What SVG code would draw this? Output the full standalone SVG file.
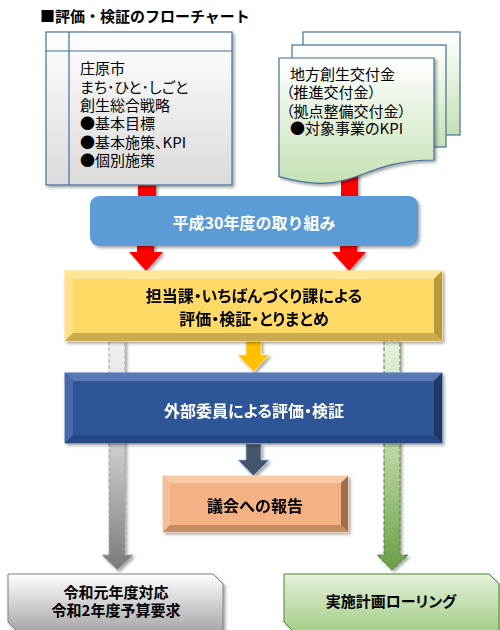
<svg xmlns="http://www.w3.org/2000/svg" width="500" height="630" viewBox="0 0 500 630">
<defs>
<style>
text{font-family:"Noto Sans CJK JP","Noto Sans",sans-serif;}
.t{font-size:15px;fill:#000;}
.b{font-size:15px;font-weight:bold;text-anchor:middle;}
.w{fill:#fff;}
.k{fill:#000;}
.p{font-feature-settings:"palt";}
</style>
<filter id="sh" x="-10%" y="-10%" width="130%" height="140%">
<feDropShadow dx="2" dy="2" stdDeviation="1.8" flood-color="#000" flood-opacity="0.35"/>
</filter>
<linearGradient id="gGray" x1="0" y1="0" x2="0" y2="1">
<stop offset="0" stop-color="#ffffff"/><stop offset="1" stop-color="#dadada"/>
</linearGradient>
<linearGradient id="gGreen" x1="0" y1="0" x2="0" y2="1">
<stop offset="0" stop-color="#ffffff"/><stop offset="1" stop-color="#c5e0b4"/>
</linearGradient>
<linearGradient id="gArrGray" x1="0" y1="0" x2="0" y2="1">
<stop offset="0" stop-color="#f2f2f2"/><stop offset="0.5" stop-color="#c8c8c8"/><stop offset="1" stop-color="#7a7a7a"/>
</linearGradient>
<linearGradient id="gArrGreen" x1="0" y1="0" x2="0" y2="1">
<stop offset="0" stop-color="#e6f1df"/><stop offset="0.5" stop-color="#b5d69f"/><stop offset="1" stop-color="#6a9e45"/>
</linearGradient>
<linearGradient id="gBotGray" x1="0" y1="0" x2="0" y2="1">
<stop offset="0" stop-color="#ffffff"/><stop offset="1" stop-color="#a6a6a6"/>
</linearGradient>
<linearGradient id="gBotGreen" x1="0" y1="0" x2="0" y2="1">
<stop offset="0" stop-color="#e5f1dc"/><stop offset="1" stop-color="#a3cd86"/>
</linearGradient>
</defs>
<rect width="500" height="630" fill="#fff"/>

<text id="title" x="40" y="22" class="t" style="font-weight:bold">■評価・検証のフローチャート</text>

<g id="connectors">
<rect x="138" y="180" width="18" height="18" fill="#ff0000" filter="url(#sh)"/>
<rect x="341" y="170" width="17" height="28" fill="#ff0000" filter="url(#sh)"/>
<polygon points="137,240 154,240 154,252 163,252 146,271 129,252 137,252" fill="#ff0000" filter="url(#sh)"/>
<polygon points="340,240 357,240 357,252 366,252 349,271 332,252 340,252" fill="#ff0000" filter="url(#sh)"/>
<polygon points="109,341 125,341 125,555 133,555 117.5,570 102,555 109,555" fill="url(#gArrGray)" stroke="#a6a6a6" stroke-width="1" stroke-dasharray="4,2" filter="url(#sh)"/>
<polygon points="384,341 400,341 400,555 408,555 392,570 377,555 384,555" fill="url(#gArrGreen)" stroke="#548235" stroke-width="1" stroke-dasharray="4,2" filter="url(#sh)"/>
<polygon points="246,341 261,341 261,355 269,355 253.5,372 238,355 246,355" fill="#ffc000" stroke="#ffe699" stroke-width="0.8" filter="url(#sh)"/>
<polygon points="246,444 261,444 261,460 269,460 253.5,476 238,460 246,460" fill="#44546a" stroke="#9dc3e6" stroke-width="0.8" filter="url(#sh)"/>
</g>

<g id="strategy">
<rect x="46" y="32" width="186" height="153" fill="url(#gGray)" stroke="#41719c" stroke-width="1.2" filter="url(#sh)"/>
<line x1="69" y1="32" x2="69" y2="185" stroke="#41719c" stroke-width="1.2"/>
<line x1="46" y1="51" x2="232" y2="51" stroke="#41719c" stroke-width="1.2"/>
<text class="t p" x="80" y="74">庄原市</text>
<text class="t p" x="80" y="92.5">まち･ひと･しごと</text>
<text class="t p" x="80" y="111">創生総合戦略</text>
<text class="t p" x="80" y="129">●基本目標</text>
<text class="t p" x="80" y="147.5">●基本施策、KPI</text>
<text class="t p" x="80" y="166">●個別施策</text>
</g>

<g id="grant">
<rect x="303" y="32" width="157" height="103" fill="url(#gGreen)" stroke="#41719c" stroke-width="1.2"/>
<rect x="292" y="45" width="154" height="102" fill="url(#gGreen)" stroke="#41719c" stroke-width="1.2"/>
<path d="M279,58 H434 V160 C356.5,160 356.5,198.6 279,176.6 Z" fill="url(#gGreen)" stroke="#41719c" stroke-width="1.2" filter="url(#sh)"/>
<text class="t p" x="290" y="80">地方創生交付金</text>
<text class="t p" x="286" y="98">（推進交付金）</text>
<text class="t p" x="286" y="116.5">（拠点整備交付金）</text>
<text class="t p" x="290" y="134">●対象事業のKPI</text>
</g>

<g id="h30">
<rect x="90" y="196" width="328" height="50" rx="9" fill="#5b9bd5" filter="url(#sh)"/>
<text class="b w" x="254" y="229" style="font-size:16px">平成30年度の取り組み</text>
</g>

<g id="dept" filter="url(#sh)">
<rect x="65" y="271" width="377" height="70" fill="#ffd966" stroke="#ffe083" stroke-width="1"/>
<polygon points="65,271 442,271 434,279 73,279" fill="#ffe699"/>
<polygon points="65,271 73,279 73,333 65,341" fill="#ffe28a"/>
<polygon points="442,271 442,341 434,333 434,279" fill="#b8983d"/>
<polygon points="65,341 442,341 434,333 73,333" fill="#ccaa4f"/>
<text class="b k p" x="254" y="302" style="font-size:16px">担当課・いちばんづくり課による</text>
<text class="b k p" x="254" y="325" style="font-size:16px">評価・検証・とりまとめ</text>
</g>

<g id="external" filter="url(#sh)">
<rect x="65" y="373" width="377" height="70" fill="#2f5597" stroke="#4472c4" stroke-width="1"/>
<polygon points="65,373 442,373 434,381 73,381" fill="#5a78b2"/>
<polygon points="65,373 73,381 73,435 65,443" fill="#4a68a5"/>
<polygon points="442,373 442,443 434,435 434,381" fill="#1f3864"/>
<polygon points="65,443 442,443 434,435 73,435" fill="#264a86"/>
<text class="b w p" x="254" y="417" style="font-size:16px">外部委員による評価・検証</text>
</g>

<g id="council" filter="url(#sh)">
<rect x="163" y="476" width="185" height="56" fill="#f4b183" stroke="#f8cbad" stroke-width="1"/>
<polygon points="163,476 348,476 341,483 170,483" fill="#f8caa8"/>
<polygon points="163,476 170,483 170,525 163,532" fill="#f6bf97"/>
<polygon points="348,476 348,532 341,525 341,483" fill="#a0704d"/>
<polygon points="163,532 348,532 341,525 170,525" fill="#c58d64"/>
<text class="b k" x="255" y="512" style="font-size:16px">議会への報告</text>
</g>

<g id="budget">
<polygon points="8,574 213,574 223,584 223,632 18,632 8,622" fill="url(#gBotGray)" stroke="#7f7f7f" stroke-width="1" filter="url(#sh)"/>
<text class="b k" x="116" y="598">令和元年度対応</text>
<text class="b k" x="116" y="616">令和2年度予算要求</text>
</g>

<g id="rolling">
<polygon points="284,574 489,574 499,584 499,632 294,632 284,622" fill="url(#gBotGreen)" stroke="#548235" stroke-width="1" filter="url(#sh)"/>
<text class="b k p" x="391" y="607">実施計画ローリング</text>
</g>
</svg>
